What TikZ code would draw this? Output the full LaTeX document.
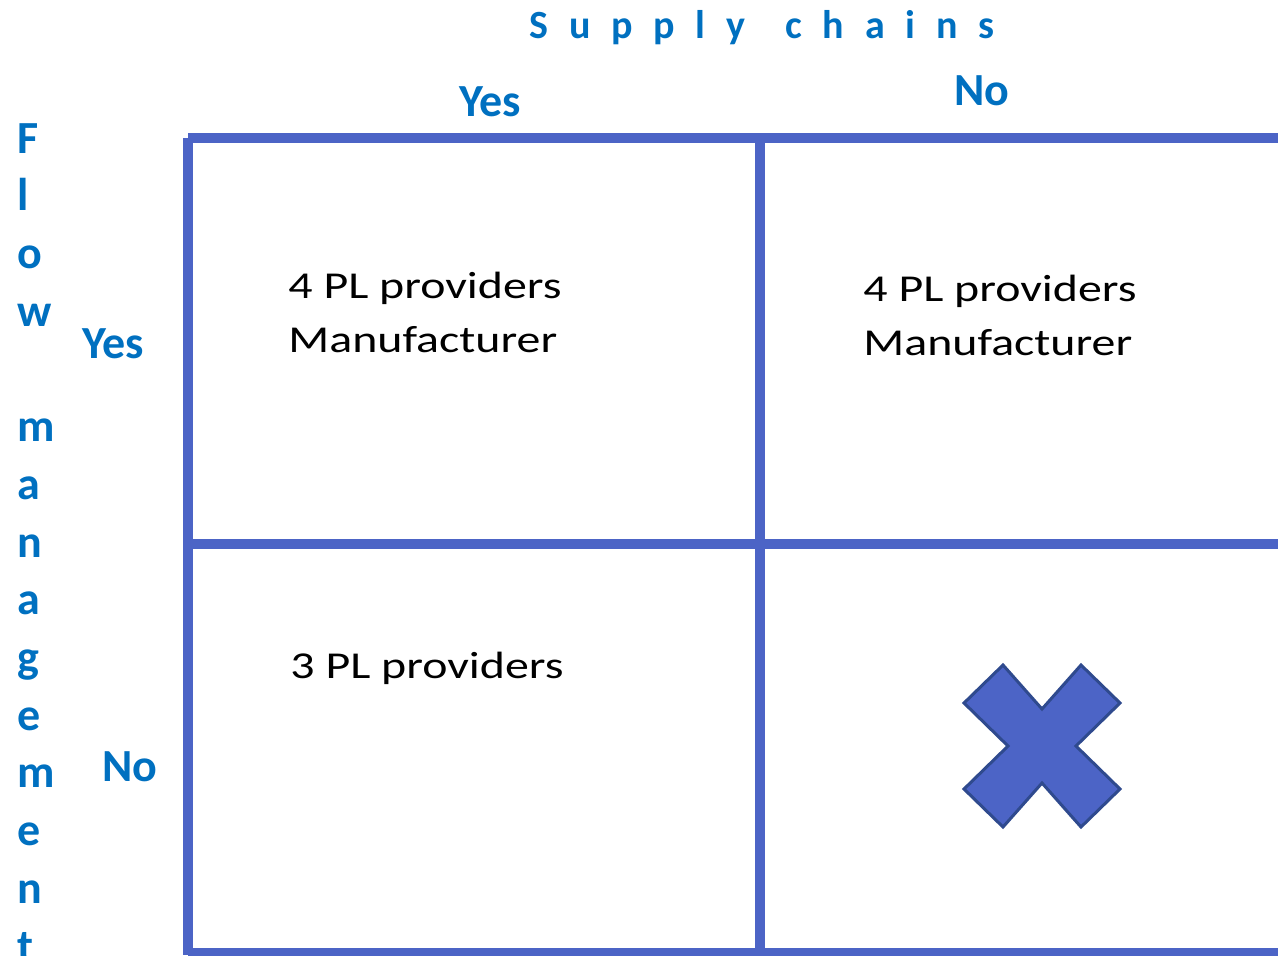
\documentclass[tikz,border=0pt]{standalone}
\usepackage{fontspec}
\setmainfont{Carlito}
\newfontfamily\bodyfont{Carlito}[FakeStretch=1.26]
\newfontfamily\spacedfont{Carlito}[LetterSpace=52]
\usepackage{tikz}
\definecolor{labelblue}{RGB}{0,112,192}
\definecolor{gridblue}{RGB}{76,100,198}
\definecolor{crossedge}{RGB}{47,74,142}

\begin{document}
\begin{tikzpicture}[
        x=0.5pt, y=-0.5pt,
        gridline/.style={draw=gridblue, line width=5pt, line cap=butt},
        axislabel/.style={inner sep=0pt, text=labelblue, font=\fontsize{23}{28.85}\selectfont\bfseries},
        celltext/.style={inner sep=0pt, anchor=base west, align=left, font=\bodyfont\fontsize{19}{27}\selectfont},
        crossmark/.style={fill=gridblue, draw=crossedge, line width=1.5pt, line join=miter}
        ]
        \useasboundingbox (0,0) rectangle (1278,955);
        % grid corners
        \coordinate (tl) at (188,138);
        \coordinate (tm) at (760,138);
        \coordinate (tr) at (1278,138);
        \coordinate (ml) at (188,544);
        \coordinate (mr) at (1278,544);
        \coordinate (bl) at (188,955);
        \coordinate (bm) at (760,955);
        \coordinate (bbl) at (188,953);
        \coordinate (bbr) at (1278,953);
        \draw[gridline] (tl) -- (tr);
        \draw[gridline] (tl) -- (bl);
        \draw[gridline] (tm) -- (bm);
        \draw[gridline] (ml) -- (mr);
        \draw[gridline] (bbl) -- (bbr);
        % headings
        \node[axislabel, anchor=base, font=\spacedfont\fontsize{20}{24}\selectfont\bfseries] (supply) at (762,38) {Supply\hspace{5pt} chains};
        \node[axislabel, anchor=base] (colyes) at (490,116) {Yes};
        \node[axislabel, anchor=base] (colno) at (982,105) {No};
        % base of a multi-line node = its last line
        \node[axislabel, anchor=base west, align=left] (flow) at (17,961)
            {F\\l\\o\\w\\~\\m\\a\\n\\a\\g\\e\\m\\e\\n\\t};
        \node[axislabel, anchor=base] (rowyes) at (113,358) {Yes};
        \node[axislabel, anchor=base] (rowno) at (130,781) {No};
        % cells
        \node[celltext] (yesyes) at (288,352) {4 PL providers\\Manufacturer};
        \node[celltext] (yesno) at (863,355) {4 PL providers\\Manufacturer};
        \node[celltext] (noyes) at (290,678) {3 PL providers};
        \draw[crossmark, shift={(1042,746)}] (-78,-43) -- (-39,-81) -- (0,-37) -- (39,-81) -- (78,-43) -- (34,0)
            -- (78,43) -- (39,81) -- (0,37) -- (-39,81) -- (-78,43) -- (-34,0) -- cycle;
\end{tikzpicture}
\end{document}
